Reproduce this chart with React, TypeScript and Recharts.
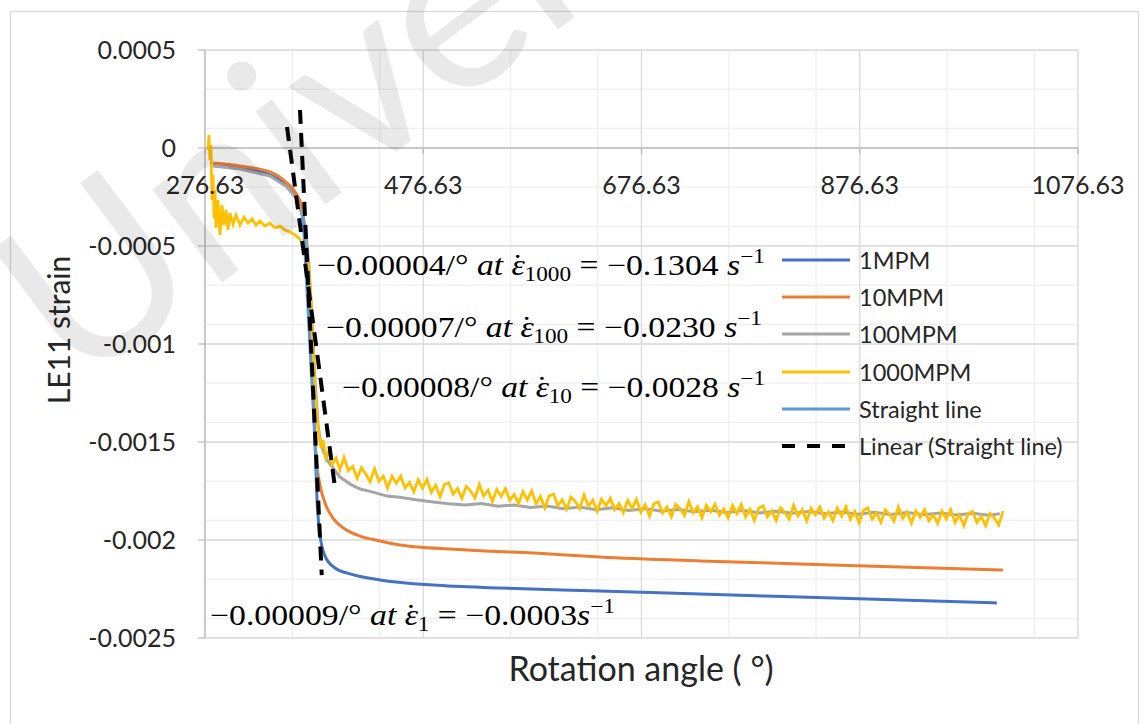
import { LineChart, Line, XAxis, YAxis, CartesianGrid, ReferenceLine, Legend } from "recharts"

type Pt = [number, number]

const W = 1145
const H = 724
const PLOT_TOP = 50
const PLOT_H = 588
const Y_ZERO = PLOT_TOP + PLOT_H / 6
const FONT = "Lato, 'Open Sans', sans-serif"
const MATH_FONT = "'Liberation Serif', 'DejaVu Serif', serif"

const xTicks = [276.63, 476.63, 676.63, 876.63, 1076.63]
const xMinor = [316.63, 356.63, 396.63, 436.63, 516.63, 556.63, 596.63, 636.63, 716.63, 756.63, 796.63, 836.63, 916.63, 956.63, 996.63, 1036.63]
const yTicks = [0.0005, 0, -0.0005, -0.001, -0.0015, -0.002, -0.0025]
const yMinor = [0.0004, 0.0003, 0.0002, 0.0001, -0.0001, -0.0002, -0.0003, -0.0004, -0.0006, -0.0007, -0.0008, -0.0009, -0.0011, -0.0012, -0.0013, -0.0014, -0.0016, -0.0017, -0.0018, -0.0019, -0.0021, -0.0022, -0.0023, -0.0024]

const legendOrder = ["1MPM", "10MPM", "100MPM", "1000MPM", "Straight line", "Linear (Straight line)"]

const mpm1: Pt[] = [
    [284.0, -0.000087], [308.7, -0.000102], [336.2, -0.000138], [351.8, -0.000194], [360.0, -0.00025],
    [365.5, -0.000337], [369.2, -0.000469], [371.9, -0.000724], [374.7, -0.001082], [377.4, -0.00149],
    [379.3, -0.001796], [382.0, -0.001974], [386.6, -0.002082], [395.8, -0.002143], [409.5, -0.002173],
    [437.0, -0.002204], [485.6, -0.00223], [547.0, -0.002245], [638.6, -0.00226], [730.2, -0.002276],
    [821.9, -0.002291], [913.5, -0.002306], [1002.3, -0.002321],
]

const mpm10: Pt[] = [
    [284.0, -0.0000765], [308.7, -0.0000918], [336.2, -0.000122], [351.8, -0.000179], [360.0, -0.00023],
    [365.5, -0.000306], [368.3, -0.000429], [371.0, -0.000622], [373.8, -0.00098], [376.5, -0.001337],
    [378.3, -0.001566], [382.0, -0.001719], [386.6, -0.001811], [393.9, -0.001888], [404.9, -0.001944],
    [418.7, -0.00198], [437.0, -0.002005], [455.3, -0.002026], [516.7, -0.002051], [592.8, -0.002071],
    [638.6, -0.002087], [730.2, -0.002107], [821.9, -0.002122], [913.5, -0.002138], [1007.9, -0.002153],
]

const mpm100: Pt[] = [
    [284.0, -0.0000918], [308.7, -0.000107], [336.2, -0.000143], [351.8, -0.000199], [360.0, -0.000255],
    [365.5, -0.000337], [369.2, -0.000429], [371.9, -0.000597], [374.7, -0.000878], [377.4, -0.001184],
    [380.2, -0.001413], [382.9, -0.001515], [388.4, -0.001592], [400.3, -0.001679], [410.0, -0.001716],
    [418.7, -0.00174], [428.0, -0.001752], [443.4, -0.001776], [455.0, -0.001782], [470.0, -0.001795],
    [485.6, -0.001806], [500, -0.001815], [515, -0.001822], [530, -0.001814], [545, -0.001828],
    [560, -0.001821], [575, -0.001834], [590, -0.001826], [605, -0.00184], [620, -0.001832],
    [635, -0.001845], [650, -0.001836], [665, -0.001849], [680, -0.00184], [695, -0.001853],
    [710, -0.001845], [725, -0.001856], [740, -0.001848], [755, -0.00186], [770, -0.00185],
    [785, -0.001862], [800, -0.001853], [815, -0.001864], [830, -0.001855], [845, -0.001866],
    [860, -0.001857], [875, -0.001868], [890, -0.001859], [905, -0.00187], [920, -0.00186],
    [935, -0.001871], [950, -0.001862], [965, -0.001873], [980, -0.001864], [995, -0.001874],
    [1005, -0.001866],
]

const mpm1000: Pt[] = [
    [279.4, -0.00001], [280.3, 0.000066], [281.2, -0.000061], [282.1, 0.000015], [283.0, -0.000265],
    [284.0, -0.000138], [284.9, -0.000357], [285.8, -0.000214], [286.7, -0.000408], [288.5, -0.000265],
    [290.4, -0.000444], [292.2, -0.000291], [294.0, -0.000393], [295.9, -0.000316], [297.7, -0.000418],
    [299.5, -0.000332], [302.3, -0.000388], [305.0, -0.000342], [308.7, -0.000393], [312.4, -0.000352],
    [316.0, -0.000383], [319.7, -0.000362], [323.4, -0.000393], [327.0, -0.000372], [331.6, -0.000398],
    [336.2, -0.000383], [340.8, -0.000408], [345.4, -0.000398], [349.9, -0.000418], [354.5, -0.000429],
    [359.1, -0.000444], [363.7, -0.000465], [367.4, -0.00051], [371.0, -0.000582], [373.8, -0.000776],
    [375.6, -0.001031], [377.4, -0.001235], [379.3, -0.001388], [381.1, -0.001464], [382.9, -0.001531],
    [384.8, -0.00149], [387.5, -0.001582], [390.3, -0.001541], [393.0, -0.001617], [396.7, -0.001582],
    [400.3, -0.001643],
    [404, -0.001578], [408, -0.001646], [412, -0.001625], [416, -0.001685], [420, -0.001632], [424, -0.001663],
    [428, -0.001703], [432, -0.001637], [436, -0.0017], [440, -0.001674], [444, -0.001734], [448, -0.001674],
    [452, -0.00171], [456, -0.001674], [460, -0.001734], [464, -0.001706], [468, -0.001754], [472, -0.001693],
    [476, -0.001736], [480, -0.001691], [484, -0.001757], [488, -0.00172], [492, -0.001779], [496, -0.001717],
    [500, -0.001708], [504, -0.001766], [508, -0.001737], [512, -0.001787], [516, -0.001726], [520, -0.00175],
    [524, -0.001786], [528, -0.001717], [532, -0.001775], [536, -0.001746], [540, -0.001804], [544, -0.001742],
    [548, -0.001777], [552, -0.001739], [556, -0.001798], [560, -0.001768], [564, -0.001814], [568, -0.001753],
    [572, -0.001795], [576, -0.00175], [580, -0.001816], [584, -0.001778], [588, -0.001837], [592, -0.001775],
    [596, -0.001766], [600, -0.001824], [604, -0.001794], [608, -0.001843], [612, -0.001781], [616, -0.001804],
    [620, -0.00184], [624, -0.00177], [628, -0.001827], [632, -0.001797], [636, -0.001854], [640, -0.001792],
    [644, -0.001826], [648, -0.001787], [652, -0.001845], [656, -0.001814], [660, -0.00186], [664, -0.001798],
    [668, -0.001839], [672, -0.001793], [676, -0.001858], [680, -0.00182], [684, -0.001878], [688, -0.001815],
    [692, -0.001805], [696, -0.001862], [700, -0.001832], [704, -0.001881], [708, -0.001818], [712, -0.00184],
    [716, -0.001875], [720, -0.001804], [724, -0.001861], [728, -0.00183], [732, -0.001886], [736, -0.001823],
    [740, -0.001856], [744, -0.001817], [748, -0.001874], [752, -0.001842], [756, -0.001887], [760, -0.001824],
    [764, -0.001865], [768, -0.001818], [772, -0.001882], [776, -0.001843], [780, -0.0019], [784, -0.001837],
    [788, -0.001826], [792, -0.001882], [796, -0.001851], [800, -0.0019], [804, -0.001836], [808, -0.001859],
    [812, -0.001893], [816, -0.001822], [820, -0.001878], [824, -0.001846], [828, -0.001903], [832, -0.001839],
    [836, -0.001872], [840, -0.001832], [844, -0.001888], [848, -0.001857], [852, -0.001901], [856, -0.001838],
    [860, -0.001878], [864, -0.00183], [868, -0.001895], [872, -0.001855], [876, -0.001912], [880, -0.001848],
    [884, -0.001836], [888, -0.001893], [892, -0.001861], [896, -0.00191], [900, -0.001846], [904, -0.001869],
    [908, -0.001904], [912, -0.001832], [916, -0.001889], [920, -0.001858], [924, -0.001915], [928, -0.001852],
    [932, -0.001884], [936, -0.001845], [940, -0.001902], [944, -0.001871], [948, -0.001916], [952, -0.001852],
    [956, -0.001893], [960, -0.001846], [964, -0.001911], [968, -0.001872], [972, -0.001928], [976, -0.001865],
    [980, -0.001854], [984, -0.001911], [988, -0.00188], [992, -0.001928], [996, -0.001865], [1000, -0.001888],
    [1004, -0.001923], [1008, -0.001852],
]

const straightLine: Pt[] = [[366.4, -0.000337], [379.3, -0.001694]]
const trendA: Pt[] = [[363.7, 0.000194], [383.6, -0.002179]]
const trendB: Pt[] = [[351.8, 0.000107], [395.7, -0.00173]]

const slopeNotes = [
    { slope: "−0.00004", rate: "1000", value: "−0.1304", gap: true },
    { slope: "−0.00007", rate: "100", value: "−0.0230", gap: true },
    { slope: "−0.00008", rate: "10", value: "−0.0028", gap: true },
    { slope: "−0.00009", rate: "1", value: "−0.0003", gap: false },
]
const noteBoxes = [
    { x: 317, y: 275, w: 448 },
    { x: 326, y: 337, w: 436 },
    { x: 342, y: 397, w: 423 },
    { x: 210, y: 625, w: 405 },
]

const toRows = (pts: Pt[]) => pts.map(([x, y]) => ({ x, y }))

function XTick({ x, payload }: any) {
    return (
        <g>
            <line x1={x} x2={x} y1={Y_ZERO} y2={Y_ZERO + 6} stroke="#bfbfbf" strokeWidth={1.5} />
            <text x={x} y={Y_ZERO + 46} textAnchor="middle" fontFamily={FONT} fontSize={25} fill="#262626">
                {Number(payload.value).toFixed(2)}
            </text>
        </g>
    )
}

function LegendBox({ payload }: any) {
    const items = (payload || [])
        .filter((p: any) => p.type !== "none" && legendOrder.includes(p.value))
        .sort((a: any, b: any) => legendOrder.indexOf(a.value) - legendOrder.indexOf(b.value))
    return (
        <div style={{ fontFamily: FONT, fontSize: 23.5, color: "#262626" }}>
            {items.map((p: any) => {
                const dash = p.payload?.strokeDasharray
                return (
                    <div key={p.value} style={{ display: "flex", alignItems: "center", height: 37.3 }}>
                        <svg width={78} height={8} style={{ flex: "none" }}>
                            <line x1={1} x2={69} y1={4} y2={4} stroke={p.color} strokeWidth={dash ? 4 : 3} strokeDasharray={dash ? "13 12" : undefined} />
                        </svg>
                        <span style={{ whiteSpace: "nowrap" }}>{p.value}</span>
                    </div>
                )
            })}
        </div>
    )
}

export default function App() {
    return (
        <div style={{ position: "relative", width: W, height: H, background: "#fff", overflow: "hidden" }}>
            <style>{"body{margin:0}"}</style>
            <LineChart width={W} height={H} margin={{ top: PLOT_TOP, right: 67, bottom: 85, left: 85 }}>
                <CartesianGrid horizontalValues={yMinor} verticalValues={xMinor} stroke="#efefef" strokeWidth={1.3} />
                <CartesianGrid horizontalValues={yTicks} verticalValues={xTicks} stroke="#d9d9d9" strokeWidth={1.3} />
                <XAxis
                    dataKey="x"
                    type="number"
                    domain={[276.63, 1076.63]}
                    ticks={xTicks}
                    allowDataOverflow
                    height={1}
                    axisLine={false}
                    tickLine={false}
                    tick={<XTick />}
                />
                <YAxis
                    type="number"
                    domain={[-0.0025, 0.0005]}
                    ticks={yTicks}
                    allowDataOverflow
                    width={120}
                    tickFormatter={(v) => String(v)}
                    axisLine={{ stroke: "#bfbfbf", strokeWidth: 1.5 }}
                    tickLine={{ stroke: "#bfbfbf", strokeWidth: 1.3 }}
                    tickSize={7}
                    tickMargin={22}
                    tick={{ fill: "#262626", fontSize: 25, fontFamily: FONT }}
                />
                <ReferenceLine y={0} stroke="#bfbfbf" strokeWidth={1.5} />
                <Line data={toRows(mpm1)} dataKey="y" name="1MPM" type="monotone" stroke="#4472C4" strokeWidth={3} dot={false} activeDot={false} isAnimationActive={false} />
                <Line data={toRows(mpm10)} dataKey="y" name="10MPM" type="monotone" stroke="#ED7D31" strokeWidth={3} dot={false} activeDot={false} isAnimationActive={false} />
                <Line data={toRows(mpm100)} dataKey="y" name="100MPM" type="linear" stroke="#A5A5A5" strokeWidth={3} dot={false} activeDot={false} isAnimationActive={false} />
                <Line data={toRows(mpm1000)} dataKey="y" name="1000MPM" type="linear" stroke="#FFC000" strokeWidth={2.8} dot={false} activeDot={false} isAnimationActive={false} />
                <Line data={toRows(straightLine)} dataKey="y" name="Straight line" type="linear" stroke="#5B9BD5" strokeWidth={3} dot={false} activeDot={false} isAnimationActive={false} />
                <Line data={toRows(trendA)} dataKey="y" name="Linear (Straight line)" type="linear" stroke="#000" strokeWidth={4} strokeDasharray="14 9" dot={false} activeDot={false} isAnimationActive={false} />
                <Line data={toRows(trendB)} dataKey="y" name="trend2" legendType="none" type="linear" stroke="#000" strokeWidth={4} strokeDasharray="14 9" dot={false} activeDot={false} isAnimationActive={false} />
                <Legend
                    layout="vertical"
                    align="center"
                    verticalAlign="middle"
                    content={<LegendBox />}
                    wrapperStyle={{ left: 781, top: 241, width: 350 }}
                />
            </LineChart>

            <svg width={W} height={H} style={{ position: "absolute", left: 0, top: 0, pointerEvents: "none" }}>
                <rect x={10.5} y={11.5} width={1128} height={730} fill="none" stroke="#d9d9d9" strokeWidth={1.3} />
                <text x={70} y={330} transform="rotate(-90 70 330)" textAnchor="middle" fontFamily={FONT} fontSize={30} fill="#262626">
                    LE11 strain
                </text>
                <text x={641} y={681} textAnchor="middle" fontFamily={FONT} fontSize={34} fill="#262626">
                    Rotation angle ( °)
                </text>
                {slopeNotes.map((n, i) => {
                    const b = noteBoxes[i]
                    return (
                        <text key={i} x={b.x} y={b.y} fontFamily={MATH_FONT} fontSize={29} fill="#000" textLength={b.w} lengthAdjust="spacingAndGlyphs">
                            {n.slope}/° <tspan fontStyle="italic">at ε</tspan>
                            <tspan dx={-11}>˙</tspan>
                            <tspan fontSize={20} dx={1} dy={6}>{n.rate}</tspan>
                            <tspan dy={-6}>{" = " + n.value + (n.gap ? " " : "")}</tspan>
                            <tspan fontStyle="italic">s</tspan>
                            <tspan fontSize={20} dy={-12}>−1</tspan>
                        </text>
                    )
                })}
                <text x={77} y={392} transform="rotate(-37 77 392)" fontFamily={FONT} fontSize={230} fill="#000" fillOpacity={0.085}>
                    University
                </text>
            </svg>
        </div>
    )
}
